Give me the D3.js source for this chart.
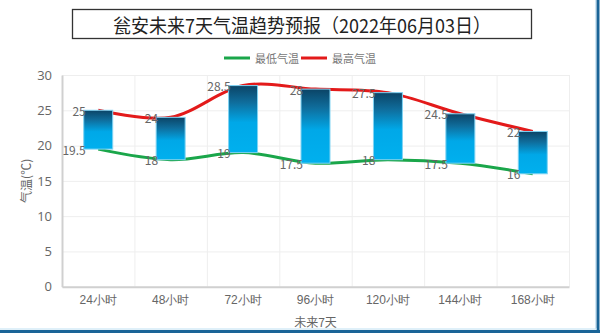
<!DOCTYPE html>
<html><head><meta charset="utf-8">
<script src="https://cdn.jsdelivr.net/npm/d3@7"></script>
<style>
html,body{margin:0;padding:0;background:#fff;}
svg{display:block;font-family:"Microsoft YaHei","Noto Sans CJK SC",sans-serif;}
</style></head>
<body><svg id="c" width="600" height="333"></svg>
<script>
const categories = ["24小时","48小时","72小时","96小时","120小时","144小时","168小时"];
const lowTemps  = [19.5, 18, 19, 17.5, 18, 17.5, 16];
const highTemps = [25, 24, 28.5, 28, 27.5, 24.5, 22];
const yTicks = [0,5,10,15,20,25,30];
const titleText = "瓮安未来7天气温趋势预报（2022年06月03日）";
const seriesNames = ["最低气温","最高气温"];
const xTitle = "未来7天";
const yTitle = "气温(℃)";

const svg = d3.select("#c");
const L = 62, R = 569, T = 75, B = 286.7;
const x = d3.scaleBand().domain(categories).range([L, R]).padding(0);
const y = d3.scaleLinear().domain([0, 30]).range([B, T]);

// frame
svg.append("rect").attr("x",0).attr("y",0).attr("width",600).attr("height",333).attr("fill","#fff");
svg.append("line").attr("x1",598).attr("x2",598).attr("y1",0).attr("y2",333).attr("stroke","#1a6497").attr("stroke-width",3);
svg.append("line").attr("x1",595.5).attr("x2",595.5).attr("y1",0).attr("y2",329).attr("stroke","#cfe6f4").attr("stroke-width",1);
svg.append("line").attr("x1",0).attr("x2",600).attr("y1",331.5).attr("y2",331.5).attr("stroke","#1a6497").attr("stroke-width",3);
svg.append("line").attr("x1",0).attr("x2",597).attr("y1",329).attr("y2",329).attr("stroke","#bfe0f2").attr("stroke-width",1);

// title box
svg.append("rect").attr("x",72.5).attr("y",9.5).attr("width",459).attr("height",29)
  .attr("fill","#fff").attr("stroke","#333").attr("stroke-width",1.3);
svg.append("text").attr("x",302).attr("y",24).attr("text-anchor","middle").attr("dominant-baseline","central")
  .attr("font-size",19).attr("fill","#222").attr("font-family","'Noto Sans CJK SC',sans-serif")
  .attr("textLength",378).attr("lengthAdjust","spacingAndGlyphs").text(titleText);

// legend
const leg = svg.append("g").attr("font-size",11).attr("fill","#666");
[[224,"#1aa64a",seriesNames[0]],[301,"#e31a1a",seriesNames[1]]].forEach(([lx,c,t])=>{
  leg.append("line").attr("x1",lx).attr("x2",lx+26).attr("y1",58).attr("y2",58).attr("stroke",c).attr("stroke-width",3);
  leg.append("text").attr("x",lx+31).attr("y",58).attr("dominant-baseline","central").attr("fill","#777").text(t);
});

// grid
const g = svg.append("g");
g.selectAll(".hg").data(yTicks).join("line").attr("x1",L).attr("x2",R)
  .attr("y1",d=>y(d)+0.5).attr("y2",d=>y(d)+0.5).attr("stroke","#eeeeee");
const bounds = categories.map(c=>x(c)).concat([R]);
g.selectAll(".vg").data(bounds).join("line").attr("x1",d=>d+0.5).attr("x2",d=>d+0.5)
  .attr("y1",T).attr("y2",B).attr("stroke","#eeeeee");

// axes
const yAxis = d3.axisLeft(y).tickValues(yTicks).tickSize(0).tickPadding(10);
const ya = svg.append("g").attr("transform",`translate(${L},0)`).call(yAxis);
ya.select(".domain").attr("stroke","#d0d0d0").attr("stroke-width",2);
ya.selectAll("text").attr("font-size",13).attr("fill","#666").attr("font-family","'Open Sans','Noto Sans CJK SC',sans-serif");
const xAxis = d3.axisBottom(x).tickSize(0).tickPadding(9);
const xa = svg.append("g").attr("transform",`translate(0,${B})`).call(xAxis);
xa.select(".domain").attr("stroke","#d0d0d0").attr("stroke-width",2);
xa.selectAll("text").attr("font-size",12).attr("fill","#666");

svg.append("text").attr("x",(L+R)/2).attr("y",321).attr("text-anchor","middle").attr("dominant-baseline","central")
  .attr("font-size",12).attr("fill","#666").text(xTitle);
svg.append("text").attr("transform",`translate(25,${(T+B)/2}) rotate(-90)`).attr("text-anchor","middle")
  .attr("dominant-baseline","central").attr("font-size",12).attr("fill","#666").text(yTitle);

// lines
const cx = d=>x(d)+x.bandwidth()/2;
const line = (vals)=>d3.line().x((d,i)=>cx(categories[i])).y(d=>y(d)).curve(d3.curveCardinal)(vals);
svg.append("path").attr("d",line(highTemps)).attr("fill","none").attr("stroke","#e31a1a").attr("stroke-width",3);
svg.append("path").attr("d",line(lowTemps)).attr("fill","none").attr("stroke","#1aa64a").attr("stroke-width",3);

// gradient bars
const defs = svg.append("defs");
const gr = defs.append("linearGradient").attr("id","bg").attr("x1",0).attr("x2",0).attr("y1",0).attr("y2",1);
gr.append("stop").attr("offset","0%").attr("stop-color","#0b4466");
gr.append("stop").attr("offset","25%").attr("stop-color","#0f6d9c");
gr.append("stop").attr("offset","55%").attr("stop-color","#00a8e8");
gr.append("stop").attr("offset","100%").attr("stop-color","#00b0ee");
const bw = x.bandwidth()*0.4;
svg.selectAll(".bar").data(categories).join("rect")
  .attr("x",d=>cx(d)-bw/2).attr("width",bw)
  .attr("y",(d,i)=>y(highTemps[i])).attr("height",(d,i)=>y(lowTemps[i])-y(highTemps[i]))
  .attr("fill","url(#bg)").attr("stroke","#7fd3f3").attr("stroke-width",1);

// labels
const lab = svg.append("g").attr("font-size",12).attr("fill","#666").attr("text-anchor","end").attr("dominant-baseline","central");
categories.forEach((c,i)=>{
  lab.append("text").attr("x",cx(c)-bw/2+2).attr("y",y(highTemps[i])).text(highTemps[i]);
  lab.append("text").attr("x",cx(c)-bw/2+2).attr("y",y(lowTemps[i])).text(lowTemps[i]);
});
</script></body></html>
